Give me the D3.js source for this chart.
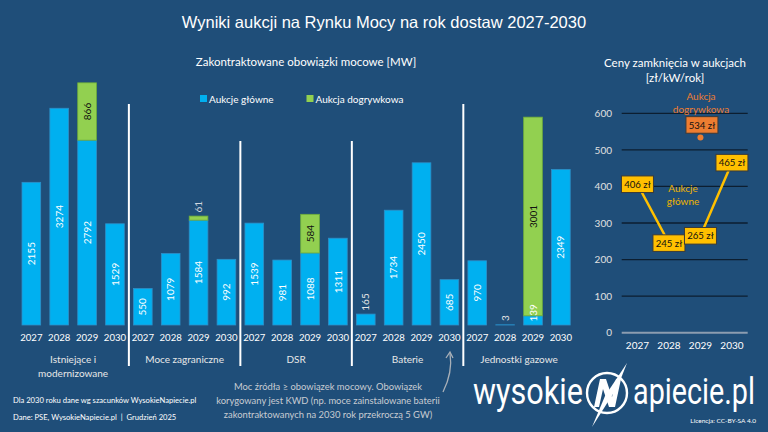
<html lang="pl">
<head>
    <meta charset="UTF-8">
    <title>Rynek Mocy 2027-2030</title>
    <script src="https://d3js.org/d3.v7.min.js"></script>
    <style>
        body { margin: 0; background: #1f4e79; }
        svg { display: block; }
        text { font-family: Lato, "Open Sans", sans-serif; }
    </style>
</head>
<body>
    <script>
        // Size of the picture
        const w = 768;
        const h = 432;

        // Data
        const groups = ["Istniejące i\nmodernizowane", "Moce zagraniczne", "DSR", "Baterie", "Jednostki gazowe"];
        const years = ["2027", "2028", "2029", "2030"];
        const mainAuction = [2155, 3274, 2792, 1529, 550, 1079, 1584, 992, 1539, 981, 1088, 1311, 165, 1734, 2450, 685, 970, 3, 139, 2349];
        const extraAuction = [0, 0, 866, 0, 0, 0, 61, 0, 0, 0, 584, 0, 0, 0, 0, 0, 0, 0, 3001, 0];
        const priceMain = [406, 245, 265, 465];
        const priceExtraYear = "2029";
        const priceExtra = 534;
        const priceTicks = [0, 100, 200, 300, 400, 500, 600];

        const blue = "#00b0f0";
        const green = "#92d050";
        const gold = "#ffc000";
        const orange = "#ed7d31";

        const svg = d3
            .select("body")
            .append("svg")
            .attr("width", w)
            .attr("height", h)
            .attr("viewBox", [0, 0, w, h]);

        svg.append("rect").attr("width", w).attr("height", h).attr("fill", "#1f4e79");

        // Titles
        svg.append("text")
            .attr("x", 384).attr("y", 28)
            .attr("text-anchor", "middle")
            .style("font-family", "'Liberation Sans', Arial, sans-serif")
            .style("font-size", "16.5px")
            .attr("fill", "white")
            .text("Wyniki aukcji na Rynku Mocy na rok dostaw 2027-2030");

        svg.append("text")
            .attr("x", 306).attr("y", 66)
            .attr("text-anchor", "middle")
            .style("font-size", "11.5px")
            .attr("fill", "white")
            .text("Zakontraktowane obowiązki mocowe [MW]");

        svg.append("text")
            .attr("x", 675).attr("y", 67)
            .attr("text-anchor", "middle")
            .style("font-size", "11.5px")
            .attr("fill", "white")
            .text("Ceny zamknięcia w aukcjach");
        svg.append("text")
            .attr("x", 675).attr("y", 82)
            .attr("text-anchor", "middle")
            .style("font-size", "11.5px")
            .attr("fill", "white")
            .text("[zł/kW/rok]");

        // ---------- bar chart ----------
        const rows = mainAuction.map((v, i) => ({
            key: i,
            group: Math.floor(i / years.length),
            year: years[i % years.length],
            main: v,
            extra: extraAuction[i]
        }));

        const xScale = d3.scaleBand()
            .domain(rows.map(d => d.key))
            .range([17.4, 574.8])
            .paddingInner(0.33)
            .paddingOuter(0.165);

        const yScale = d3.scaleLinear()
            .domain([0, 4000])
            .range([325, 60.2]);

        const bars = svg.append("g").attr("id", "bars");

        bars.selectAll("rect.main")
            .data(rows)
            .enter()
            .append("rect")
            .attr("class", "main")
            .attr("x", d => xScale(d.key))
            .attr("y", d => yScale(d.main))
            .attr("width", xScale.bandwidth())
            .attr("height", d => yScale(0) - yScale(d.main))
            .attr("fill", blue)
            .attr("stroke", "#2e8fc8")
            .attr("stroke-width", 0.8);

        bars.selectAll("rect.extra")
            .data(rows.filter(d => d.extra > 0))
            .enter()
            .append("rect")
            .attr("class", "extra")
            .attr("x", d => xScale(d.key))
            .attr("y", d => yScale(d.main + d.extra))
            .attr("width", xScale.bandwidth())
            .attr("height", d => yScale(d.main) - yScale(d.main + d.extra))
            .attr("fill", green)
            .attr("stroke", "#6fae3a")
            .attr("stroke-width", 0.8);

        // Value labels, rotated
        const charW = 5.4;
        const labelInfo = [];
        rows.forEach(d => {
            const len = String(d.main).length * charW;
            const top = yScale(d.main);
            const segH = yScale(0) - top;
            let cy, color;
            if (segH >= len + 4 || d.extra > 0) {
                cy = Math.min((top + yScale(0)) / 2, yScale(0) - 4 - len / 2);
                color = "white";
            } else {
                cy = top - 4 - len / 2;
                color = "#e6e6e6";
            }
            labelInfo.push({ d: d, v: d.main, cy: cy, color: color });
            if (d.extra > 0) {
                const lenE = String(d.extra).length * charW;
                const t = yScale(d.main + d.extra);
                const hE = top - t;
                if (hE >= lenE + 4) {
                    labelInfo.push({ d: d, v: d.extra, cy: (t + top) / 2, color: "#111" });
                } else {
                    labelInfo.push({ d: d, v: d.extra, cy: t - 4 - lenE / 2, color: "#cfd6de" });
                }
            }
        });

        bars.selectAll("text.value")
            .data(labelInfo)
            .enter()
            .append("text")
            .attr("class", "value")
            .attr("transform", l => `translate(${xScale(l.d.key) + xScale.bandwidth() / 2 + 3.6}, ${l.cy})rotate(-90)`)
            .attr("text-anchor", "middle")
            .style("font-size", "10px")
            .attr("fill", l => l.color)
            .text(l => l.v);

        // Year axis
        const xAxis = d3.axisBottom(xScale).tickSize(0).tickFormat(k => rows[k].year);
        svg.append("g")
            .attr("id", "x-axis")
            .attr("transform", `translate(0, ${331})`)
            .call(xAxis)
            .call(g => g.select(".domain").remove())
            .call(g => g.selectAll("text")
                .attr("fill", "white")
                .style("font-family", "Lato, sans-serif")
                .style("font-size", "9.6px"));

        // Group labels and dividers
        const step = xScale.step();
        groups.forEach((name, gi) => {
            const first = xScale(gi * years.length);
            const last = xScale(gi * years.length + years.length - 1) + xScale.bandwidth();
            const cx = (first + last) / 2;
            const lines = name.split("\n");
            const t = svg.append("text")
                .attr("text-anchor", "middle")
                .style("font-size", "10px")
                .attr("fill", "#e8e8e8");
            lines.forEach((ln, li) => {
                t.append("tspan").attr("x", cx).attr("y", 363 + li * 13.5).text(ln);
            });
            if (gi < groups.length - 1) {
                const xd = last + (step - xScale.bandwidth()) / 2;
                const top = (gi === 0 || gi === groups.length - 2) ? 104 : 141;
                svg.append("line")
                    .attr("x1", xd).attr("x2", xd)
                    .attr("y1", top).attr("y2", 366)
                    .attr("stroke", "white")
                    .attr("stroke-width", 2);
            }
        });

        // Legend
        const legend = svg.append("g").attr("id", "legend");
        [["Aukcje główne", blue, 200], ["Aukcja dogrywkowa", green, 306.5]].forEach(([lab, col, lx]) => {
            legend.append("rect").attr("x", lx).attr("y", 95).attr("width", 7).attr("height", 7).attr("fill", col);
            legend.append("text").attr("x", lx + 9).attr("y", 102.5)
                .style("font-size", "10px").attr("fill", "white").text(lab);
        });

        // ---------- price chart ----------
        const px = d3.scaleBand().domain(years).range([621.7, 747.7]);
        const py = d3.scaleLinear().domain([0, 600]).range([332.7, 113.3]);
        const pcx = yr => px(yr) + px.bandwidth() / 2;

        const grid = svg.append("g").attr("id", "price-grid");
        grid.selectAll("line")
            .data(priceTicks)
            .enter()
            .append("line")
            .attr("x1", 621.7).attr("x2", 747.7)
            .attr("y1", d => py(d)).attr("y2", d => py(d))
            .attr("stroke", d => d === 0 ? "#8c9db0" : "#0c1e30")
            .attr("stroke-width", d => d === 0 ? 2 : 1.3);

        const pyAxis = d3.axisLeft(py).tickValues(priceTicks).tickSize(0).tickPadding(0);
        svg.append("g")
            .attr("transform", `translate(612, 0)`)
            .call(pyAxis)
            .call(g => g.select(".domain").remove())
            .call(g => g.selectAll("text")
                .attr("fill", "#e0e0e0")
                .style("font-family", "Lato, sans-serif")
                .style("font-size", "10px"));

        const pxAxis = d3.axisBottom(px).tickSize(0).tickPadding(0);
        svg.append("g")
            .attr("transform", `translate(0, 342)`)
            .call(pxAxis)
            .call(g => g.select(".domain").remove())
            .call(g => g.selectAll("text")
                .attr("fill", "white")
                .style("font-family", "Lato, sans-serif")
                .style("font-size", "10px"));

        const line = d3.line().x((d, i) => pcx(years[i])).y(d => py(d));
        svg.append("path")
            .datum(priceMain)
            .attr("d", line)
            .attr("fill", "none")
            .attr("stroke", gold)
            .attr("stroke-width", 2.5);

        // orange point
        svg.append("circle")
            .attr("cx", pcx(priceExtraYear))
            .attr("cy", py(priceExtra))
            .attr("r", 3)
            .attr("fill", orange);

        const priceBox = (cx, cy, fill, txt) => {
            svg.append("rect")
                .attr("x", cx - 16).attr("y", cy - 8.3)
                .attr("width", 32).attr("height", 16.6)
                .attr("fill", fill)
                .attr("stroke", "#3a3a3a")
                .attr("stroke-width", 1);
            svg.append("text")
                .attr("x", cx).attr("y", cy + 3.6)
                .attr("text-anchor", "middle")
                .style("font-size", "9.6px")
                .attr("fill", "#111")
                .text(txt);
        };
        priceMain.forEach((v, i) => priceBox(pcx(years[i]), py(v), gold, `${v} zł`));
        priceBox(pcx(priceExtraYear) + 1.5, py(priceExtra) - 12.5, orange, `${priceExtra} zł`);

        [["Aukcja", 100], ["dogrywkowa", 112.5]].forEach(([t, y]) => {
            svg.append("text").attr("x", 701).attr("y", y).attr("text-anchor", "middle")
                .style("font-size", "10px").attr("fill", orange).text(t);
        });
        [["Aukcje", 192], ["główne", 205]].forEach(([t, y]) => {
            svg.append("text").attr("x", 683).attr("y", y).attr("text-anchor", "middle")
                .style("font-size", "10px").attr("fill", "#f0b400").text(t);
        });

        // ---------- notes ----------
        svg.append("text").attr("x", 13).attr("y", 403)
            .style("font-size", "7.6px").attr("fill", "white")
            .text("Dla 2030 roku dane wg szacunków WysokieNapiecie.pl");
        svg.append("text").attr("x", 13).attr("y", 420)
            .style("font-size", "7.6px").attr("fill", "white")
            .attr("xml:space", "preserve")
            .text("Dane: PSE, WysokieNapiecie.pl  |  Grudzień 2025");

        ["Moc źródła ≥ obowiązek mocowy. Obowiązek",
         "korygowany jest KWD (np. moce zainstalowane baterii",
         "zakontraktowanych na 2030 rok przekroczą 5 GW)"].forEach((t, i) => {
            svg.append("text").attr("x", 328).attr("y", 390 + i * 14)
                .attr("text-anchor", "middle")
                .style("font-size", "9.4px").attr("fill", "#c8ccd2").text(t);
        });

        // curved arrow up to Baterie 2030
        svg.append("path")
            .attr("d", "M443,392 C449,380 452,366 450,353")
            .attr("fill", "none").attr("stroke", "#a9b0b8").attr("stroke-width", 1.3);
        svg.append("path")
            .attr("d", "M446,358 L450,352 L453,358")
            .attr("fill", "none").attr("stroke", "#a9b0b8").attr("stroke-width", 1.3);

        // logo: squeeze each word to its width in the reference
        const logo = svg.append("g").attr("id", "logo");
        const logoWord = (txt, x0, width) => {
            const t = logo.append("text")
                .style("font-family", "Roboto, sans-serif").style("font-weight", 400)
                .style("font-size", "37px").attr("fill", "white").text(txt);
            const natural = t.node().getComputedTextLength();
            t.attr("transform", `translate(${x0}, 404) scale(${width / natural}, 1)`);
        };
        logoWord("wysokie", 473, 110);
        logoWord("apiecie.pl", 633, 122);
        logo.append("circle").attr("cx", 607).attr("cy", 393).attr("r", 20)
            .attr("fill", "none").attr("stroke", "white").attr("stroke-width", 2.4);
        logo.append("path")
            .attr("d", "M594,407 L600,379 L606,379 L612,397 L616,379 L621,379 L615,407 L609,407 L603,389 L599,407 Z")
            .attr("fill", "white");
        logo.append("path")
            .attr("d", "M627,363 L618,386 L592,427 L605,396 Z")
            .attr("fill", "white");
        logo.append("text").attr("x", 756).attr("y", 423)
            .attr("text-anchor", "end")
            .style("font-size", "6.5px").attr("fill", "white")
            .text("Licencja: CC-BY-SA 4.0");
    </script>
</body>
</html>
